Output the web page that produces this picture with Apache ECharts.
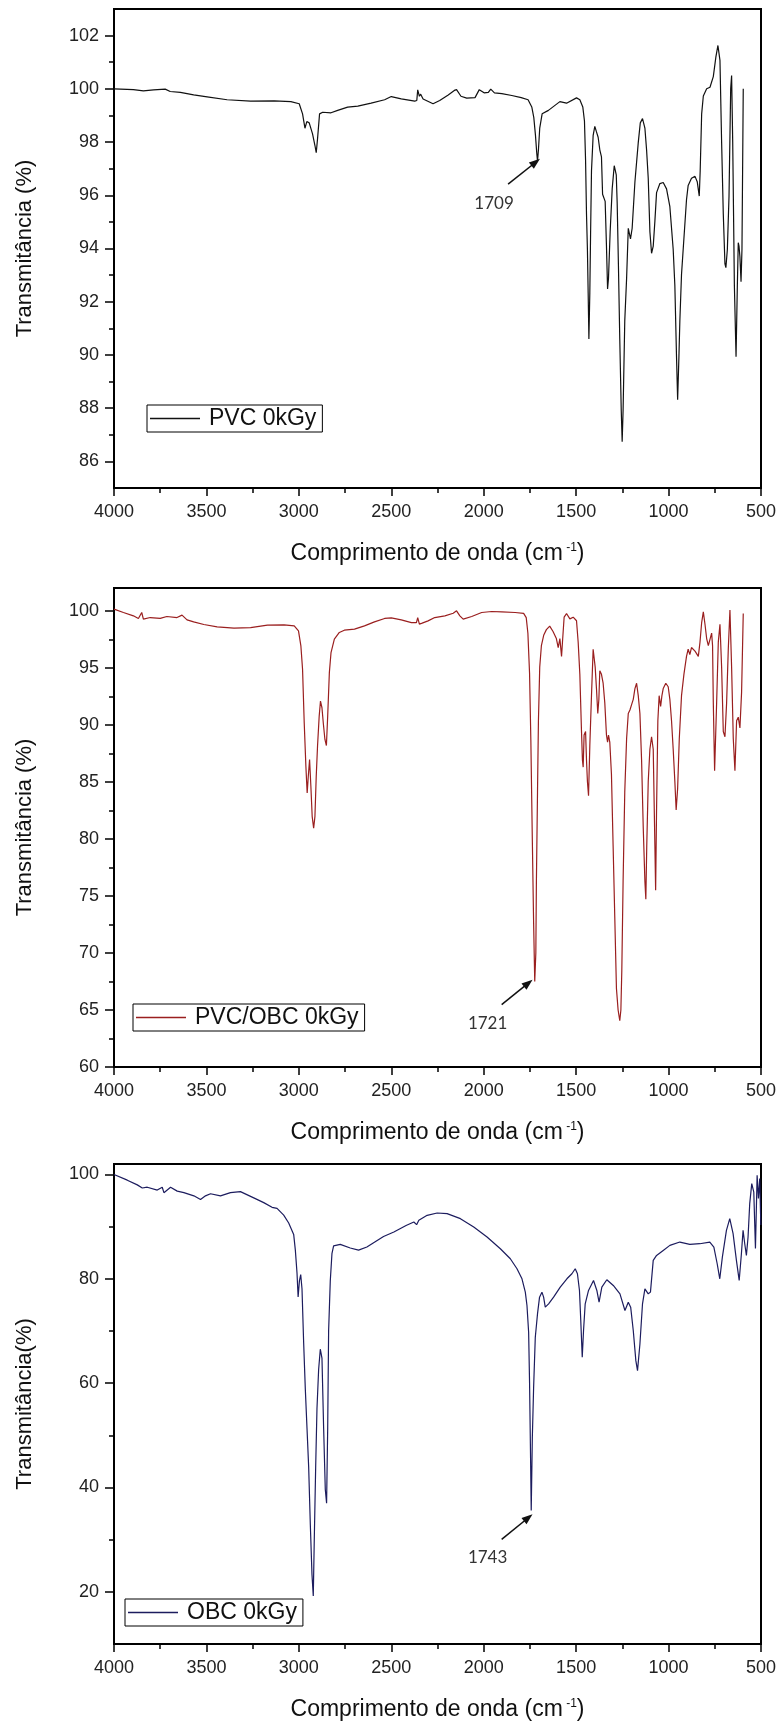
<!DOCTYPE html>
<html><head><meta charset="utf-8">
<script src="https://cdn.jsdelivr.net/npm/echarts@6/dist/echarts.min.js"></script>
<style>html,body{margin:0;padding:0;background:#fff}#c{width:780px;height:1725px}</style>
</head><body><div id="c"></div>
<script>
// [wavenumber (cm-1), transmittance (%)]
const pvc = [[4000,100.0],[3895,99.97],[3841,99.92],[3786,99.96],[3723,99.99],[3696,99.9],[3641,99.87],[3569,99.77],[3496,99.7],[3388,99.59],[3261,99.54],[3134,99.55],[3043,99.52],[2998,99.44],[2980,99.06],[2967,98.52],[2957,98.77],[2944,98.72],[2926,98.31],[2913,97.87],[2906,97.6],[2899,98.12],[2888,99.06],[2871,99.12],[2826,99.1],[2790,99.19],[2736,99.31],[2681,99.35],[2609,99.46],[2536,99.59],[2500,99.71],[2446,99.62],[2373,99.54],[2362,99.56],[2357,99.96],[2348,99.72],[2341,99.8],[2328,99.62],[2274,99.44],[2238,99.56],[2192,99.77],[2159,99.94],[2147,99.97],[2123,99.72],[2092,99.65],[2047,99.67],[2024,99.97],[1998,99.85],[1975,99.87],[1962,99.99],[1942,99.85],[1902,99.82],[1848,99.75],[1797,99.67],
[1760,99.59],[1740,99.32],[1729,98.92],[1720,98.25],[1713,97.58],[1709,97.28],[1704,97.71],[1697,98.52],[1684,99.06],[1650,99.19],[1588,99.52],[1552,99.46],[1498,99.66],[1480,99.59],[1464,99.32],[1455,98.79],[1449,97.31],[1444,95.3],[1439,93.96],[1435,92.34],[1431,90.6],[1426,92.34],[1422,94.49],[1417,96.91],[1408,98.25],[1399,98.59],[1390,98.38],[1381,98.18],[1372,97.71],[1363,97.44],[1357,96.04],[1350,96.1],[1343,95.77],[1336,94.09],[1330,92.48],[1325,92.88],[1316,94.63],[1305,96.24],[1294,97.11],[1289,97.04],[1283,96.77],[1278,95.7],[1271,93.28],[1264,90.6],[1256,87.92],[1251,86.74],[1246,87.92],[1237,91.27],[1227,92.88],[1218,94.76],[1213,94.69],[1206,94.36],[1197,94.76],[1182,96.51],[1164,97.98],[1153,98.72],[1141,98.88],[1128,98.52],[1119,97.71],[1110,96.64],[1101,94.63],[1092,93.82],[1083,94.09],[1074,95.03],[1065,96.1],[1047,96.44],[1029,96.48],[1011,96.24],[993,95.57],[975,93.96],[966,92.61],[957,89.93],[951,88.32],[944,89.93],[939,91.27],[930,93.02],[921,93.96],[903,95.83],[894,96.37],[876,96.64],[857,96.71],[845,96.51],[834,95.97],[829,96.91],[821,99.06],[812,99.73],[794,100.0],[776,100.06],[767,100.13],[758,100.46],[744,101.2],[733,101.63],[722,101.07],[713,97.98],[704,95.3],[695,93.42],[690,93.28],[682,93.96],[673,95.97],[664,100.0],[659,100.5],[653,97.98],[644,92.61],[635,89.93],[628,92.61],[623,94.22],[619,94.09],[614,93.69],[608,92.75],[603,93.96],[598,98.25],[596,100.0]];

const pvcObc = [[4000,100.15],[3949,99.85],[3895,99.56],[3868,99.33],[3850,99.85],[3841,99.27],[3804,99.41],[3750,99.33],[3714,99.5],[3659,99.41],[3632,99.62],[3605,99.21],[3569,99.03],[3514,98.8],[3442,98.59],[3351,98.48],[3261,98.53],[3170,98.74],[3080,98.77],[3025,98.68],[3002,98.24],[2989,96.92],[2980,94.87],[2971,90.18],[2962,86.37],[2955,84.03],[2949,85.49],[2942,86.96],[2935,84.61],[2928,81.98],[2920,80.95],[2913,81.98],[2906,85.49],[2899,88.13],[2890,90.77],[2883,92.09],[2875,91.5],[2868,90.18],[2859,88.72],[2851,88.19],[2844,90.77],[2835,94.58],[2826,96.34],[2808,97.51],[2781,98.1],[2754,98.3],[2699,98.39],[2645,98.68],[2591,99.03],[2536,99.33],[2500,99.38],[2446,99.21],[2391,98.97],[2364,98.97],[2357,99.41],[2348,98.83],[2333,98.92],[2301,99.12],[2265,99.41],[2210,99.56],[2165,99.79],[2147,100.0],[2129,99.56],[2111,99.27],[2065,99.5],[2011,99.85],[1957,99.94],[1902,99.91],[1830,99.85],[1784,99.78],[1770,99.4],[1761,98.03],[1752,94.52],[1745,88.67],[1737,79.91],[1730,72.6],[1724,67.5],[1718,70.01],[1715,76.27],[1709,84.1],[1704,90.36],[1697,95.06],[1688,96.94],[1675,97.88],[1661,98.35],[1643,98.66],[1625,98.19],[1607,97.57],[1597,96.78],[1588,97.57],[1579,96.0],[1574,97.25],[1565,99.44],[1552,99.76],[1534,99.29],[1516,99.44],[1498,99.13],[1489,97.25],[1480,94.43],[1471,89.42],[1466,86.92],[1462,86.29],[1457,89.11],[1449,89.42],[1444,86.92],[1439,85.04],[1433,83.79],[1426,88.17],[1417,92.56],[1408,96.63],[1403,96.47],[1397,95.06],[1390,93.18],[1383,90.99],[1377,92.24],[1372,94.75],[1363,94.43],[1354,93.65],[1345,91.93],[1336,89.11],[1330,88.49],[1325,89.11],[1318,88.49],[1309,85.67],[1300,79.4],[1291,73.14],[1282,66.88],[1273,65.0],[1264,64.06],[1258,65.0],[1253,68.44],[1246,76.27],[1237,84.1],[1227,88.8],[1218,90.99],[1209,91.3],[1200,91.77],[1191,92.24],[1182,93.18],[1173,93.65],[1164,92.56],[1155,90.99],[1146,86.92],[1137,80.97],[1128,76.27],[1123,74.71],[1118,79.4],[1110,85.04],[1101,87.86],[1092,88.96],[1083,87.86],[1074,79.4],[1070,75.49],[1065,82.53],[1058,90.36],[1051,92.56],[1043,91.62],[1036,92.56],[1029,93.18],[1015,93.65],[1002,93.34],[993,92.24],[984,90.36],[975,87.86],[966,85.04],[959,82.53],[951,84.41],[942,88.8],[930,92.56],[917,94.43],[903,96.0],[894,96.63],[885,96.16],[876,96.78],[857,96.47],[839,96.0],[830,97.25],[821,98.97],[812,99.91],[803,98.82],[794,97.57],[785,96.94],[776,97.1],[767,98.04],[762,96.94],[758,91.93],[751,85.98],[740,91.93],[731,97.25],[722,98.82],[713,95.06],[704,89.42],[695,88.96],[686,91.93],[677,96.63],[668,100.07],[659,95.06],[650,88.8],[641,85.98],[632,90.36],[623,90.67],[614,89.73],[605,92.87],[596,99.76]];

const obc = [[4000,100.0],[3928,98.9],[3874,98.0],[3847,97.4],[3820,97.55],[3766,97.0],[3739,97.55],[3730,96.5],[3694,97.55],[3658,96.8],[3622,96.5],[3568,95.9],[3532,95.2],[3505,95.9],[3478,96.3],[3424,95.9],[3370,96.5],[3316,96.7],[3244,95.5],[3190,94.6],[3145,93.7],[3118,93.5],[3082,92.2],[3055,90.7],[3028,88.5],[3019,85.5],[3010,81.1],[3004,76.5],[2997,79.6],[2990,80.8],[2983,78.1],[2974,67.7],[2965,58.8],[2956,51.4],[2947,44.0],[2938,32.9],[2929,23.3],[2922,19.2],[2917,29.2],[2909,44.0],[2902,55.1],[2893,62.6],[2884,66.5],[2875,64.8],[2866,51.4],[2857,39.6],[2850,37.0],[2844,51.4],[2839,70.0],[2830,79.6],[2821,84.8],[2812,86.3],[2776,86.6],[2722,85.9],[2677,85.5],[2632,86.1],[2542,88.1],[2486,88.96],[2420,90.2],[2378,90.88],[2363,90.37],[2351,91.2],[2306,92.16],[2252,92.61],[2198,92.48],[2126,91.52],[2054,89.92],[1982,88.0],[1910,85.76],[1856,83.84],[1820,81.92],[1793,80.0],[1775,77.43],[1766,74.87],[1757,69.75],[1752,60.14],[1746,44.13],[1743,35.6],[1737,49.58],[1730,59.19],[1721,68.79],[1709,73.28],[1698,76.48],[1685,77.44],[1676,76.48],[1667,74.56],[1649,75.2],[1622,76.48],[1586,78.4],[1550,80.0],[1523,80.96],[1505,81.92],[1493,80.96],[1482,77.76],[1475,72.0],[1467,64.95],[1460,70.08],[1451,75.2],[1433,77.76],[1406,79.68],[1388,77.76],[1376,75.52],[1361,78.4],[1334,79.81],[1299,78.72],[1263,77.12],[1236,73.92],[1218,75.52],[1205,74.56],[1191,70.08],[1177,64.31],[1168,62.39],[1155,67.51],[1141,75.2],[1128,78.08],[1110,77.12],[1098,77.44],[1083,83.52],[1065,84.48],[1029,85.44],[993,86.4],[939,87.04],[885,86.6],[831,86.72],[777,87.04],[755,86.08],[737,82.88],[723,80.0],[709,84.16],[687,89.29],[669,91.53],[651,88.65],[633,83.52],[618,79.68],[606,84.8],[597,89.29],[588,86.72],[579,84.48],[570,88.0],[561,94.4],[550,98.25],[539,96.6],[530,85.8],[521,99.85],[514,95.4],[507,99.2],[501,90.3]];

const seriesNames = ['PVC 0kGy', 'PVC/OBC 0kGy', 'OBC 0kGy'];
const seriesColors = ['#111111', '#9a1f1f', '#1c1c5e'];
const xRange = [500, 4000];
const xStep = 500;
const yRanges = [[85, 103], [60, 102], [10, 102]];
const yMajor = [[86, 88, 90, 92, 94, 96, 98, 100, 102], [60, 65, 70, 75, 80, 85, 90, 95, 100], [20, 40, 60, 80, 100]];
const yMinor = [[87, 89, 91, 93, 95, 97, 99, 101], [62.5, 67.5, 72.5, 77.5, 82.5, 87.5, 92.5, 97.5], [30, 50, 70, 90]];
const yNames = ['Transmitância (%)', 'Transmitância (%)', 'Transmitância(%)'];
const xName = ['Comprimento de onda (cm', ' -1', ')'];
const annotations = [
  { label: '1709', text: [1944, 95.68], from: [1868, 96.42], to: [1719, 97.24] },
  { label: '1721', text: [1979, 63.77], from: [1903, 65.47], to: [1759, 67.35] },
  { label: '1743', text: [1979, 26.65], from: [1903, 30.05], to: [1759, 34.2] }
];

const datasets = [pvc, pvcObc, obc];
const FONT = '"Liberation Sans", Arial, sans-serif';
const layout = [
  { top: 9, height: 479, legend: [147, 405] },
  { top: 588, height: 479, legend: [133, 1004] },
  { top: 1164, height: 480, legend: [125, 1599] }
];

const grid = [], xAxis = [], yAxis = [], series = [], legend = [];
layout.forEach((L, i) => {
  grid.push({ left: 114, width: 647, top: L.top, height: L.height, show: true,
    borderColor: '#000', borderWidth: 2, backgroundColor: 'transparent' });
  xAxis.push({
    gridIndex: i, type: 'value', min: xRange[0], max: xRange[1], interval: xStep, inverse: true,
    axisLine: { lineStyle: { color: '#000', width: 2 } },
    axisTick: { length: 8, lineStyle: { color: '#000', width: 1.5 } },
    minorTick: { show: true, splitNumber: 2, length: 5, lineStyle: { color: '#000', width: 1.5 } },
    splitLine: { show: false }, minorSplitLine: { show: false },
    axisLabel: { fontSize: 18, margin: 15, color: '#222', fontFamily: FONT, formatter: v => String(v) },
    name: '{t|' + xName[0] + '}{s|' + xName[1] + '}{t|' + xName[2] + '}',
    nameLocation: 'middle', nameGap: 54,
    nameTextStyle: { fontFamily: FONT, color: '#111', fontSize: 23,
      rich: { t: { fontSize: 23, fontFamily: FONT, color: '#111', verticalAlign: 'bottom' },
              s: { fontSize: 12, fontFamily: FONT, color: '#111', verticalAlign: 'top' } } }
  });
  yAxis.push({
    gridIndex: i, type: 'value', position: 'left', min: yRanges[i][0], max: yRanges[i][1],
    axisLine: { show: true, lineStyle: { color: '#000', width: 2 } },
    axisTick: { show: true, length: 9, customValues: yMajor[i], lineStyle: { color: '#000', width: 1.5 } },
    axisLabel: { show: true, customValues: yMajor[i], fontSize: 18, margin: 15, color: '#222', fontFamily: FONT },
    splitLine: { show: false },
    name: yNames[i], nameLocation: 'middle', nameGap: 78,
    nameTextStyle: { fontSize: 22, color: '#111', fontFamily: FONT }
  });
  yAxis.push({
    gridIndex: i, type: 'value', position: 'left', offset: 0, min: yRanges[i][0], max: yRanges[i][1],
    axisLine: { show: false },
    axisTick: { show: true, length: 5, customValues: yMinor[i], lineStyle: { color: '#000', width: 1.5 } },
    axisLabel: { show: false }, splitLine: { show: false }
  });
  const a = annotations[i];
  series.push({
    type: 'line', name: seriesNames[i], xAxisIndex: i, yAxisIndex: 2 * i,
    data: datasets[i], showSymbol: false, symbol: 'none', color: seriesColors[i],
    lineStyle: { width: 1.2, color: seriesColors[i] }, silent: true,
    markLine: { silent: true, symbol: ['none', 'triangle'], symbolSize: [8, 11],
      lineStyle: { color: '#111', width: 1.5, type: 'solid' }, label: { show: false },
      data: [[{ coord: a.from }, { coord: a.to }]] },
    markPoint: { silent: true, symbol: 'circle', symbolSize: 0,
      label: { show: true, position: 'inside', formatter: '{b}', fontFamily: 'Lato, "Open Sans", sans-serif', fontSize: 17, color: '#333' },
      data: [{ name: a.label, coord: a.text }] }
  });
  legend.push({
    data: [seriesNames[i]], left: L.legend[0], top: L.legend[1], icon: 'rect',
    itemWidth: 50, itemHeight: 1.5, itemGap: 0, selectedMode: false,
    borderColor: '#000', borderWidth: 1, borderRadius: 0, padding: [2, 6, 2, 3],
    textStyle: { fontSize: 23, color: '#111', fontFamily: FONT, padding: [0, 0, 0, 4] }
  });
});

const chart = echarts.init(document.getElementById('c'), null, { renderer: 'canvas' });
chart.setOption({ animation: false, backgroundColor: '#fff', grid, xAxis, yAxis, series, legend });
</script></body></html>
